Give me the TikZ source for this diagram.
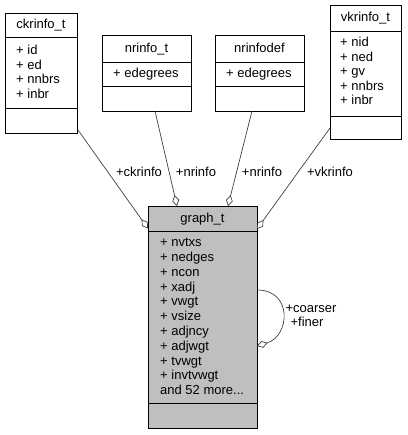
\documentclass[tikz,border=0pt]{standalone}
\usepackage{fontspec}
\setmainfont{Liberation Sans}
\usetikzlibrary{arrows.meta}
\begin{document}
\begin{tikzpicture}[x=1pt,y=-1pt,
  font=\fontsize{13pt}{14pt}\selectfont,
  cls/.style={draw=black,line width=0.8pt,inner sep=0pt,anchor=north west},
  sep/.style={draw=black,line width=0.8pt},
  txt/.style={inner sep=0pt,text height=9.2pt,text depth=2pt},
  attr/.style={txt,anchor=west},
  lbl/.style={txt},
  conn/.style={draw=black!75,line width=0.7pt,-{Diamond[open,length=11pt,width=7pt,line width=0.7pt]}}]
\useasboundingbox (0,0) rectangle (407,435);
% ckrinfo_t
\node[cls,minimum width=72pt,minimum height=120pt] (ck) at (5,13) {};
\draw[sep] (5,37) -- (77,37) (5,108) -- (77,108);
\node[txt] (ckt) at (41,25) {ckrinfo\_t};
\node[attr] (ck1) at (16,51) {+ id};
\node[attr] (ck2) at (16,65.5) {+ ed};
\node[attr] (ck3) at (16,80) {+ nnbrs};
\node[attr] (ck4) at (16,94.5) {+ inbr};
% nrinfo_t
\node[cls,minimum width=89pt,minimum height=76pt] (nr) at (102,35) {};
\draw[sep] (102,62) -- (191,62) (102,86) -- (191,86);
\node[txt] (nrt) at (146.5,48.5) {nrinfo\_t};
\node[attr] (nr1) at (113,73.5) {+ edegrees};
% nrinfodef
\node[cls,minimum width=89pt,minimum height=76pt] (nd) at (215,35) {};
\draw[sep] (215,62) -- (304,62) (215,86) -- (304,86);
\node[txt] (ndt) at (259.5,48.5) {nrinfodef};
\node[attr] (nd1) at (226,73.5) {+ edegrees};
% vkrinfo_t
\node[cls,minimum width=71pt,minimum height=134pt] (vk) at (330,5) {};
\draw[sep] (330,31) -- (401,31) (330,116) -- (401,116);
\node[txt] (vkt) at (365.5,18) {vkrinfo\_t};
\node[attr] (vk1) at (340,43) {+ nid};
\node[attr] (vk2) at (340,57.5) {+ ned};
\node[attr] (vk3) at (340,72) {+ gv};
\node[attr] (vk4) at (340,86.5) {+ nnbrs};
\node[attr] (vk5) at (340,101) {+ inbr};
% graph_t
\node[cls,fill=black!25,minimum width=109pt,minimum height=222pt] (g) at (148,206) {};
\draw[sep] (148,231) -- (257,231) (148,403) -- (257,403);
\node[txt] (gt) at (202.5,218.5) {graph\_t};
\node[attr] (g1) at (160,243) {+ nvtxs};
\node[attr] (g2) at (160,257.8) {+ nedges};
\node[attr] (g3) at (160,272.6) {+ ncon};
\node[attr] (g4) at (160,287.4) {+ xadj};
\node[attr] (g5) at (160,302.2) {+ vwgt};
\node[attr] (g6) at (160,317) {+ vsize};
\node[attr] (g7) at (160,331.8) {+ adjncy};
\node[attr] (g8) at (160,346.6) {+ adjwgt};
\node[attr] (g9) at (160,361.4) {+ tvwgt};
\node[attr] (g10) at (160,376.2) {+ invtvwgt};
\node[attr] (g11) at (160,391) {and 52 more...};
% connector end points
\coordinate (ckS) at (78,130);
\coordinate (gCk) at (148,228.5);
\coordinate (nrS) at (155,111);
\coordinate (gNr) at (177,206);
\coordinate (ndS) at (252,111);
\coordinate (gNd) at (228,206);
\coordinate (vkS) at (330,128);
\coordinate (gVk) at (257,229);
\coordinate (gLs) at (257,290);
\coordinate (gLe) at (257,346);
% connectors
\draw[conn] (ckS) -- (gCk);
\draw[conn] (nrS) -- (gNr);
\draw[conn] (ndS) -- (gNd);
\draw[conn] (vkS) -- (gVk);
\draw[conn] (gLs) .. controls (293,290) and (290,336) .. (gLe);
% labels
\node[lbl] (lck) at (139,173) {+ckrinfo};
\node[lbl] (lnr) at (196,173) {+nrinfo};
\node[lbl] (lnd) at (262,173) {+nrinfo};
\node[lbl] (lvk) at (330,173) {+vkrinfo};
\node[lbl] (lco) at (311,309) {+coarser};
\node[lbl] (lfi) at (307,323) {+finer};
\end{tikzpicture}
\end{document}
